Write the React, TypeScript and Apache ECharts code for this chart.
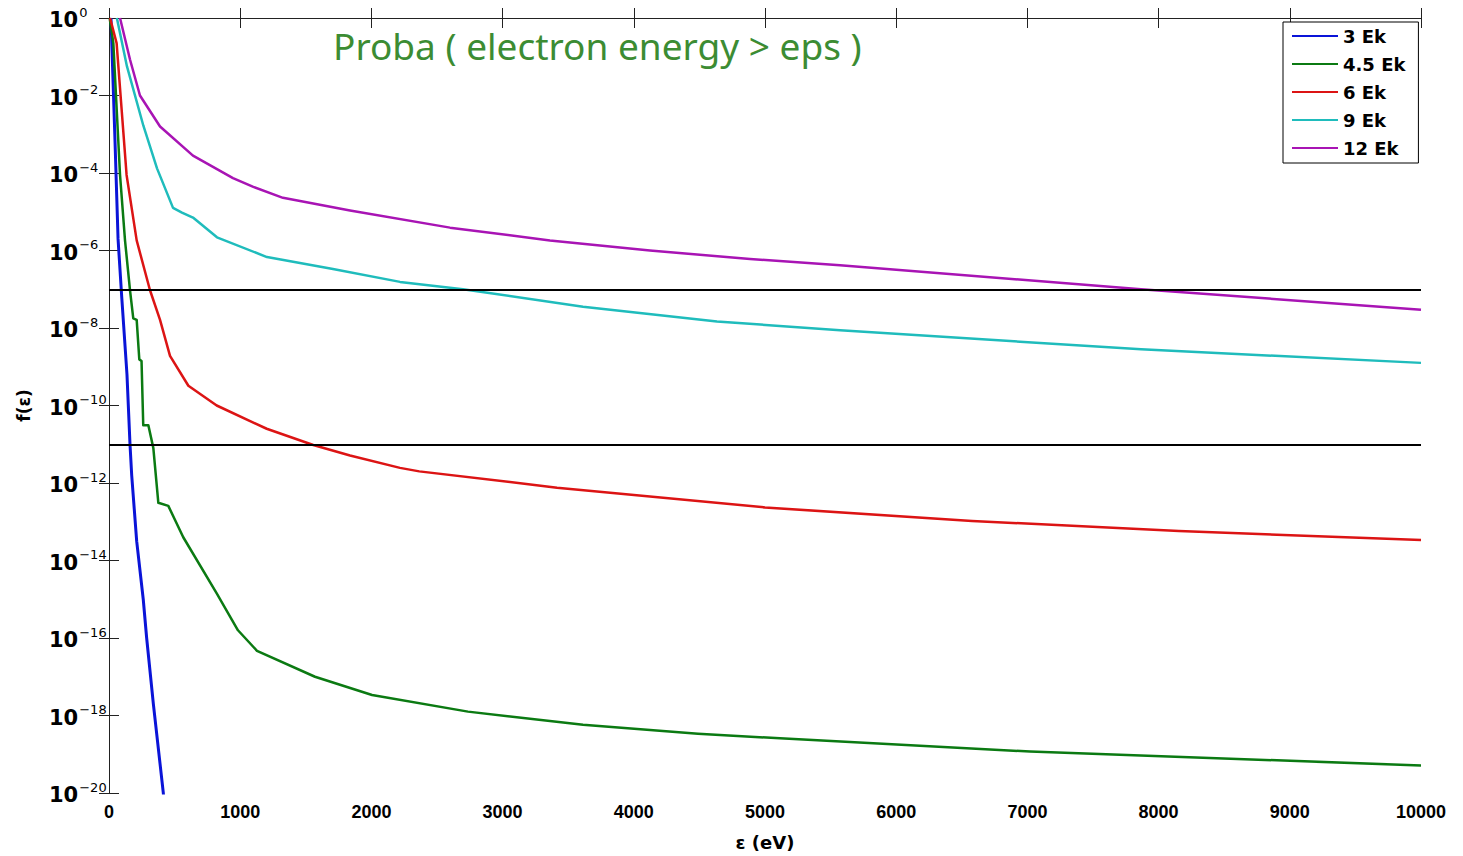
import React, { useEffect, useRef } from "react";
import * as echarts from "echarts";

// x: electron energy eps (eV); e*: log10 of the probability f(eps)
const x3 = [15, 46, 69, 97, 137, 160, 173, 211, 261, 287, 338, 414, 420];
const e3 = [0, -3.2, -5.7, -7.2, -9.2, -11.0, -11.8, -13.5, -15.0, -16.0, -17.7, -20.0, -20.3];

const x45 = [5, 33, 84, 122, 160, 185, 211, 231, 248, 261, 300, 338, 376, 452, 566, 821, 983, 1128, 1570, 2005, 2736, 3613, 4489, 5114, 7020, 10000];
const e45 = [0, -0.65, -4.05, -5.74, -7.02, -7.75, -7.79, -8.81, -8.85, -10.51, -10.51, -11.1, -12.51, -12.59, -13.4, -14.85, -15.8, -16.33, -17.0, -17.47, -17.9, -18.24, -18.47, -18.59, -18.93, -19.29];

const x6 = [8, 58, 134, 211, 312, 389, 465, 605, 821, 1202, 1557, 1837, 2218, 2365, 3415, 5000, 6578, 8155, 10000];
const e6 = [0, -0.65, -4.05, -5.74, -7.02, -7.79, -8.72, -9.49, -10.0, -10.6, -11.02, -11.29, -11.61, -11.7, -12.12, -12.63, -12.98, -13.24, -13.47];

const x9 = [60, 137, 262, 366, 488, 556, 640, 823, 1204, 1707, 2218, 2698, 3613, 4634, 5572, 7866, 10000];
const e9 = [0, -1.25, -2.78, -3.88, -4.9, -5.02, -5.15, -5.66, -6.17, -6.48, -6.81, -7.0, -7.45, -7.83, -8.06, -8.55, -8.9];

const x12 = [84, 160, 236, 389, 640, 945, 1100, 1326, 1837, 2599, 3361, 4123, 4886, 5572, 7866, 10000];
const e12 = [0, -1.07, -2.0, -2.8, -3.55, -4.13, -4.36, -4.64, -4.97, -5.41, -5.74, -6.0, -6.22, -6.38, -7.0, -7.53];

const seriesNames = ["3 Ek", "4.5 Ek", "6 Ek", "9 Ek", "12 Ek"];
const seriesColors = ["#0a14d8", "#0b7a12", "#dc1414", "#1fbcbc", "#a814b4"];
const thresholdExps = [-7, -11];

const titleText = "Proba ( electron energy > eps )";
const xName = "ε (eV)";
const yName = "f(ε)";

const toPairs = (xs: number[], es: number[]) => xs.map((v, i) => [v, es[i]]);

export default function App() {
  const ref = useRef<HTMLDivElement>(null);
  useEffect(() => {
    document.body.style.margin = "0";
    if (!ref.current) return;
    const chart = echarts.init(ref.current, null, { renderer: "svg" });
    const font = "Liberation Sans";
    const wide = "DejaVu Sans";
    const allX = [x3, x45, x6, x9, x12];
    const allE = [e3, e45, e6, e9, e12];
    const series: any[] = seriesNames.map((name, i) => ({
      name,
      type: "line",
      data: toPairs(allX[i], allE[i]),
      showSymbol: false,
      symbol: "none",
      clip: true,
      lineStyle: { color: seriesColors[i], width: i === 0 ? 3 : 2.5, join: "round" },
      itemStyle: { color: seriesColors[i] },
      z: 3,
    }));
    series[0].markLine = {
      silent: true,
      symbol: ["none", "none"],
      label: { show: false },
      lineStyle: { color: "#000", width: 2, type: "solid" },
      data: thresholdExps.map((t) => ({ yAxis: t })),
    };
    const tickStyle = { lineStyle: { color: "#222", width: 1 } };
    const expLabel = (v: number) => {
      const p = Math.round(v);
      const s = p < 0 ? "−" + String(-p) : String(p);
      return "{b|10}{s|" + s + "}";
    };
    chart.setOption({
      animation: false,
      backgroundColor: "#fff",
      title: {
        text: titleText,
        left: 328,
        top: 22,
        textStyle: { color: "#3c8c33", fontSize: 37, fontWeight: "normal", fontFamily: "Noto Sans" },
      },
      legend: {
        orient: "vertical",
        left: 1283,
        top: 22,
        data: seriesNames,
        icon: "rect",
        itemWidth: 46,
        itemHeight: 2,
        itemGap: 10,
        padding: [5, 13, 6, 9],
        backgroundColor: "#fff",
        borderColor: "#000",
        borderWidth: 1,
        borderRadius: 0,
        textStyle: { fontFamily: wide, fontWeight: "bold", fontSize: 18, color: "#000" },
      },
      grid: { left: 109, right: 42, top: 18, bottom: 53, containLabel: false },
      xAxis: [
        {
          type: "value",
          min: 0,
          max: 10000,
          interval: 1000,
          name: xName,
          nameLocation: "middle",
          nameGap: 40,
          nameTextStyle: { fontFamily: wide, fontWeight: "bold", fontSize: 18, color: "#000" },
          axisLine: { show: true, lineStyle: { color: "#222", width: 1 } },
          axisTick: { show: true, inside: true, length: 10, ...tickStyle },
          axisLabel: {
            fontFamily: font,
            fontWeight: "bold",
            fontSize: 18,
            color: "#000",
            margin: 10,
            formatter: (v: number) => String(v),
          },
          splitLine: { show: false },
        },
        {
          type: "value",
          position: "top",
          min: 0,
          max: 10000,
          interval: 1000,
          axisLine: { show: true, lineStyle: { color: "#222", width: 1 } },
          axisTick: { show: true, inside: true, length: 10, ...tickStyle },
          axisLabel: { show: false },
          splitLine: { show: false },
        },
      ],
      yAxis: [
        {
          type: "value",
          min: -20,
          max: 0,
          interval: 2,
          name: yName,
          nameLocation: "middle",
          nameGap: 77,
          nameRotate: 90,
          nameTextStyle: { fontFamily: wide, fontWeight: "bold", fontSize: 17, color: "#000" },
          axisLine: { show: true, lineStyle: { color: "#222", width: 1 } },
          axisTick: { show: true, inside: true, length: 10, ...tickStyle },
          axisLabel: {
            margin: 60,
            align: "left",
            formatter: expLabel,
            rich: {
              b: { fontFamily: wide, fontWeight: "bold", fontSize: 21, color: "#000", verticalAlign: "bottom" },
              s: { fontFamily: wide, fontSize: 13, color: "#000", verticalAlign: "top", padding: [0, 0, 12, 1] },
            },
          },
          splitLine: { show: false },
        },
        {
          type: "value",
          min: -20,
          max: 0,
          interval: 2,
          position: "right",
          axisLine: { show: true, lineStyle: { color: "#222", width: 1 } },
          axisTick: { show: true, inside: true, length: 10, ...tickStyle },
          axisLabel: { show: false },
          splitLine: { show: false },
        },
      ],
      series,
    });
    return () => chart.dispose();
  }, []);
  return <div ref={ref} style={{ width: 1463, height: 856 }} />;
}
